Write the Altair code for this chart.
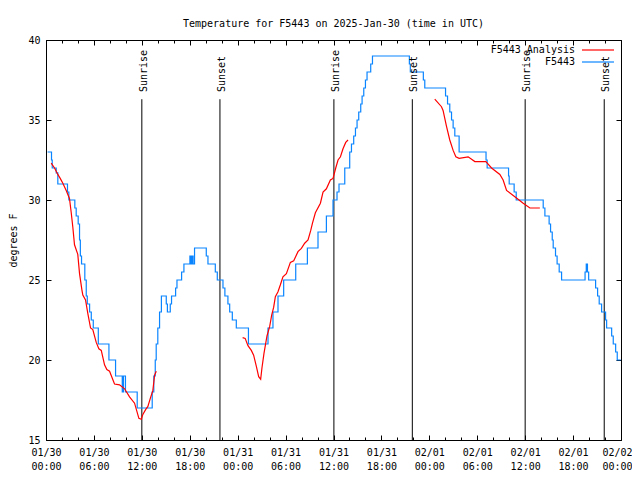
import json
import altair as alt
import pandas as pd

FONT = "DejaVu Sans Mono"

# ---- observations (F5443), step series: hours since 2025-01-30 00:00 UTC ----
obs_hours = [0.2, 0.69, 0.78, 1.28, 1.48, 2.69, 2.86, 3.61, 3.78, 4.03, 4.2, 4.3, 4.45, 4.86,
             5.04, 5.17, 5.46, 5.67, 5.92, 6.55, 7.88, 8.71, 9.55, 9.7, 9.95,
             11.42, 13.3, 13.5, 13.68, 13.8, 14.0, 14.22, 14.45, 15.06, 15.2, 15.56, 15.72,
             16.23, 16.4, 16.98, 17.27, 18.02, 18.15, 18.3, 18.42, 18.6, 20.07, 20.28, 21.2,
             21.45, 22.16, 22.4, 22.78, 23.0, 23.33, 23.83, 25.35, 27.8, 28.42, 29.05, 29.76,
             31.27, 32.73, 34.06, 35.11, 35.94, 36.44, 36.69, 37.41, 38.03, 38.25, 38.53,
             38.75, 38.95, 39.16, 39.41, 39.58, 39.79, 40.0, 40.2, 40.66, 40.88, 45.5, 45.62,
             47.25, 47.43, 50.03, 50.28, 50.56, 50.78, 50.98, 51.19, 51.73, 55.1, 55.24,
             57.92, 58.0, 58.62, 58.88, 62.26, 62.47, 63.0, 63.18, 63.39, 63.51, 63.8, 64.0,
             64.26, 64.56, 67.5, 67.65, 67.8, 67.95, 68.82, 69.07, 69.27, 69.57, 70.07, 70.2,
             70.83, 71.03, 71.33, 71.53, 71.96]
obs_temps = [33.0, 32.5, 32.0, 31.7, 31.0, 30.5, 30.0, 29.5, 29.0, 28.5, 27.5, 26.5, 26.0, 25.0,
             24.0, 23.5, 23.0, 22.5, 22.0, 21.0, 20.0, 19.0, 18.0, 19.0, 18.0,
             17.0, 18.0, 19.0, 20.0, 21.0, 22.0, 23.0, 24.0, 23.5, 23.0, 23.5, 24.0,
             24.5, 25.0, 25.5, 26.0, 26.5, 26.0, 26.5, 26.0, 27.0, 26.5, 26.0, 25.5,
             25.0, 24.5, 24.0, 23.5, 23.0, 22.5, 22.0, 21.0, 22.0, 23.0, 24.0, 25.0,
             26.0, 27.0, 28.0, 29.0, 30.0, 30.5, 31.0, 32.0, 33.0, 33.5, 34.0,
             34.5, 35.0, 35.5, 36.0, 36.5, 37.0, 37.5, 38.0, 38.5, 39.0, 38.5, 38.0,
             37.5, 37.0, 36.5, 36.0, 35.5, 35.0, 34.5, 34.0, 33.0, 32.5, 32.0,
             31.5, 31.0, 30.5, 30.0, 29.5, 29.0, 28.5, 28.0, 27.5, 27.0, 26.5, 26.0,
             25.5, 25.0, 25.5, 26.0, 25.5, 25.0, 24.5, 24.0, 23.5, 23.0, 22.5, 22.0,
             21.5, 21.0, 20.5, 20.0, 20.0]

# ---- analysis (F5443 Analysis), three separate runs ----
ana1_hours = [0.65, 1.07, 1.48, 1.78, 2.11, 2.53, 2.94, 3.16, 3.36, 3.57, 3.98, 4.2, 4.49, 4.61,
              4.95, 5.24, 5.58, 5.86, 6.29, 6.62, 6.92, 7.33, 7.62, 7.96, 8.58, 9.21, 9.84,
              10.46, 11.09, 11.63, 11.93, 12.13, 12.47, 12.76, 13.06, 13.38, 13.6, 13.81]
ana1_temps = [32.3, 32.0, 31.6, 31.35, 31.05, 30.6, 30.1, 29.2, 28.3, 27.2, 26.6, 25.4, 24.4, 24.06,
              23.75, 22.9, 22.0, 21.9, 21.1, 20.7, 20.6, 19.7, 19.4, 19.3, 18.5, 18.45, 18.2,
              17.7, 17.3, 16.35, 16.3, 16.6, 16.9, 17.1, 17.6, 18.1, 19.06, 19.3]
ana2_hours = [24.62, 24.94, 25.29, 25.71, 26.0, 26.34, 26.63, 26.88, 27.04, 27.29, 27.67, 28.01,
              28.26, 28.51, 28.72, 29.05, 29.35, 29.67, 30.1, 30.6, 31.02, 31.55, 31.98, 32.39,
              32.81, 33.15, 33.36, 33.73, 34.36, 34.69, 35.11, 35.61, 35.94, 36.28, 36.57,
              36.87, 37.19, 37.53, 37.82]
ana2_temps = [21.4, 21.35, 20.9, 20.6, 20.3, 19.6, 18.96, 18.8, 19.5, 20.4, 21.5, 22.1,
              22.8, 23.3, 23.96, 24.27, 24.7, 25.2, 25.4, 26.1, 26.2, 26.77, 26.98, 27.3,
              27.5, 28.1, 28.54, 29.2, 29.8, 30.5, 30.7, 31.25, 31.35, 32.0, 32.5,
              32.7, 33.2, 33.6, 33.75]
ana3_hours = [48.68, 49.52, 49.72, 50.15, 50.56, 50.98, 51.32, 51.73, 52.86, 53.7, 55.08, 55.79,
              56.83, 57.24, 57.67, 58.71, 59.75, 60.59, 61.84]
ana3_temps = [36.3, 35.83, 35.6, 34.6, 33.75, 33.1, 32.7, 32.6, 32.7, 32.4, 32.4, 32.0,
              31.6, 31.25, 30.6, 30.2, 29.8, 29.5, 29.5]

# ---- sunrise / sunset ----
sun_hours = [12.0, 21.78, 36.05, 45.87, 60.0, 69.9]
sun_labels = ["Sunrise", "Sunset", "Sunrise", "Sunset", "Sunrise", "Sunset"]

# ---- axis ticks ----
x_major = [0, 6, 12, 18, 24, 30, 36, 42, 48, 54, 60, 66, 72]
x_minor = list(range(0, 73, 2))
tick_dates = ["01/30", "01/30", "01/30", "01/30", "01/31", "01/31", "01/31", "01/31",
              "02/01", "02/01", "02/01", "02/01", "02/02"]
tick_times = ["00:00", "06:00", "12:00", "18:00", "00:00", "06:00", "12:00", "18:00",
              "00:00", "06:00", "12:00", "18:00", "00:00"]
y_ticks = [15, 20, 25, 30, 35, 40]

obs = pd.DataFrame({"hour": obs_hours, "temp": obs_temps, "series": "F5443"})
ana = pd.concat([
    pd.DataFrame({"hour": h, "temp": t, "run": i, "series": "F5443 Analysis"})
    for i, (h, t) in enumerate([(ana1_hours, ana1_temps), (ana2_hours, ana2_temps),
                                (ana3_hours, ana3_temps)])
])
sun = pd.DataFrame({"hour": sun_hours, "label": sun_labels})

xs = alt.Scale(domain=[0, 72], nice=False, zero=False)
ys = alt.Scale(domain=[15, 40], nice=False, zero=False)
cs = alt.Scale(domain=["F5443 Analysis", "F5443"], range=["#ff0000", "#0a85ff"])


def tick_axis(orient, values, size):
    return alt.Axis(orient=orient, offset=-size, values=values, tickSize=size,
                    tickColor="black", tickWidth=1, labels=False, domain=False,
                    grid=False, title=None)


label_expr = (f"[{json.dumps(tick_dates)}[round(datum.value / 6)], "
              f"{json.dumps(tick_times)}[round(datum.value / 6)]]")

x_label_axis = alt.Axis(orient="bottom", values=x_major, labelExpr=label_expr, ticks=False,
                        tickSize=0, domain=False, grid=False, title=None, labelAngle=0,
                        labelFont=FONT, labelFontSize=10, labelColor="black",
                        labelPadding=7, labelLineHeight=14, labelBaseline="top",
                        labelFlush=False, labelOverlap=False, labelBound=False,
                        labelOffset={"condition": {"test": "datum.value >= 72", "value": -4},
                                     "value": 0})
y_label_axis = alt.Axis(orient="left", values=y_ticks, ticks=False, tickSize=0, domain=False,
                        grid=False, title="degrees F", labelFont=FONT, labelFontSize=10,
                        labelColor="black", labelPadding=6, titleFont=FONT,
                        titleFontSize=10, titleFontWeight="normal", titleColor="black",
                        titlePadding=9, labelFlush=False, labelOverlap=False)

# long horizontal line sample drawn from a compact symbol box (keeps legend rows tight)
legend = alt.Legend(title=None, orient="none", legendX=547, legendY=5,
                    symbolType="M-4,0L4,0", symbolSize=64, symbolStrokeWidth=1.2,
                    rowPadding=2, labelAlign="right", labelOffset={"expr": "-28"},
                    labelFont=FONT, labelFontSize=10, labelColor="black", padding=0)

blue = alt.Chart(obs).mark_line(interpolate="step-after", strokeWidth=1.2).encode(
    x=alt.X("hour:Q", scale=xs, axis=x_label_axis),
    y=alt.Y("temp:Q", scale=ys, axis=y_label_axis),
    color=alt.Color("series:N", scale=cs, legend=legend),
)

red = alt.Chart(ana).mark_line(strokeWidth=1.2).encode(
    x=alt.X("hour:Q", scale=xs, axis=tick_axis("bottom", x_major, 5)),
    y=alt.Y("temp:Q", scale=ys, axis=tick_axis("left", y_ticks, 5)),
    color=alt.Color("series:N", scale=cs, legend=legend),
    detail="run:N",
)

sun_rule = alt.Chart(sun).mark_rule(color="black", strokeWidth=1).encode(
    x=alt.X("hour:Q", scale=xs, axis=tick_axis("bottom", x_minor, 3)),
    y=alt.Y(datum=15, scale=ys, axis=tick_axis("right", y_ticks, 5)),
    y2=alt.Y2(datum=36.3),
)

sun_text = alt.Chart(sun).mark_text(angle=270, align="left", baseline="middle", dy=2,
                                    font=FONT, fontSize=10, color="black").encode(
    x=alt.X("hour:Q", scale=xs, axis=tick_axis("top", x_major, 5)),
    y=alt.Y(datum=36.75, scale=ys, axis=None),
    text="label:N",
)

ghost = alt.Chart(sun).mark_point(opacity=0).encode(
    x=alt.X("hour:Q", scale=xs, axis=tick_axis("top", x_minor, 3)),
    y=alt.Y(datum=15, scale=ys, axis=None),
)

chart = alt.layer(sun_rule, blue, red, sun_text, ghost).resolve_axis(
    x="independent", y="independent"
).properties(
    width=575, height=400,
    title=alt.TitleParams("Temperature for F5443 on 2025-Jan-30 (time in UTC)", font=FONT,
                          fontSize=10, fontWeight="normal", anchor="middle", offset=6,
                          color="black"),
    padding={"left": 38, "top": 32, "right": 11, "bottom": 32},
    autosize=alt.AutoSizeParams(type="none"),
).configure_view(stroke="black", strokeWidth=1)

chart.save("out.html", embed_options={"renderer": "svg", "actions": False})
